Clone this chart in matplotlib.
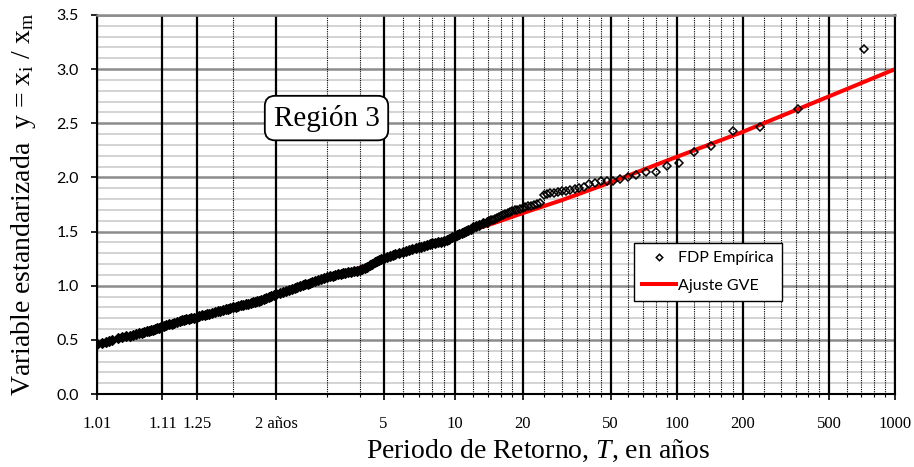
import numpy as np
import matplotlib
matplotlib.use('Agg')
import matplotlib.pyplot as plt
from matplotlib.ticker import FixedLocator, MultipleLocator, NullFormatter
from matplotlib.lines import Line2D

# ---------------- data ----------------
# dense part of the empirical distribution (reads as a solid black band)
T_band = [1.01, 1.0125, 1.015, 1.0175, 1.02, 1.025, 1.03, 1.035, 1.04, 1.045,
          1.05, 1.055, 1.06, 1.065, 1.07, 1.075, 1.08, 1.085, 1.09, 1.095,
          1.10, 1.105, 1.11, 1.115, 1.12, 1.13, 1.14, 1.15, 1.16, 1.17,
          1.18, 1.19, 1.20, 1.21, 1.22, 1.235, 1.25, 1.265, 1.28, 1.295,
          1.31, 1.325, 1.34, 1.36, 1.38, 1.40, 1.42, 1.44, 1.46, 1.48,
          1.5, 1.525, 1.55, 1.575, 1.6, 1.625, 1.65, 1.675, 1.7, 1.725,
          1.75, 1.775, 1.8, 1.83, 1.86, 1.895, 1.93, 1.965, 2.0, 2.05,
          2.1, 2.15, 2.2, 2.25, 2.3, 2.35, 2.4, 2.45, 2.5, 2.55,
          2.6, 2.65, 2.7, 2.775, 2.85, 2.925, 3.0, 3.075, 3.15, 3.225,
          3.3, 3.375, 3.45, 3.525, 3.6, 3.7, 3.8, 3.9, 4.0, 4.1,
          4.2, 4.3, 4.4, 4.5, 4.6, 4.7, 4.8, 4.9, 5.0, 5.15,
          5.3, 5.45, 5.6, 5.8, 6.0, 6.2, 6.4, 6.6, 6.8, 7.0,
          7.2, 7.4, 7.6, 7.8, 8.0, 8.25, 8.5, 8.75, 9.0, 9.25,
          9.5, 9.75, 10.0, 10.25, 10.5, 10.75, 11.0, 11.25, 11.5, 11.75,
          12.0, 12.41, 12.86, 13.33, 13.85]
y_band = [0.46, 0.47, 0.48, 0.49, 0.50, 0.513, 0.525, 0.533, 0.54, 0.548,
          0.555, 0.561, 0.567, 0.574, 0.58, 0.585, 0.59, 0.595, 0.60, 0.606,
          0.612, 0.619, 0.625, 0.629, 0.633, 0.642, 0.65, 0.659, 0.667, 0.674,
          0.68, 0.685, 0.69, 0.695, 0.70, 0.706, 0.712, 0.719, 0.725, 0.731,
          0.737, 0.743, 0.748, 0.755, 0.762, 0.769, 0.775, 0.781, 0.787, 0.794,
          0.80, 0.806, 0.812, 0.818, 0.823, 0.828, 0.833, 0.839, 0.845, 0.851,
          0.857, 0.863, 0.87, 0.877, 0.885, 0.897, 0.908, 0.917, 0.925, 0.935,
          0.945, 0.954, 0.962, 0.971, 0.98, 0.988, 0.997, 1.005, 1.013, 1.02,
          1.028, 1.035, 1.042, 1.053, 1.063, 1.072, 1.08, 1.087, 1.093, 1.099,
          1.104, 1.11, 1.115, 1.119, 1.123, 1.128, 1.133, 1.139, 1.145, 1.155,
          1.165, 1.177, 1.19, 1.204, 1.218, 1.229, 1.24, 1.249, 1.258, 1.267,
          1.275, 1.284, 1.292, 1.303, 1.314, 1.322, 1.33, 1.339, 1.348, 1.355,
          1.362, 1.37, 1.377, 1.384, 1.39, 1.396, 1.402, 1.408, 1.415, 1.425,
          1.435, 1.448, 1.46, 1.47, 1.48, 1.488, 1.495, 1.505, 1.515, 1.528,
          1.54, 1.55, 1.562, 1.575, 1.59]

# individual empirical points (open diamonds)
T_emp = [14.12, 14.4, 14.69, 15.0, 15.32, 15.65, 16.0, 16.36, 16.74, 17.14,
         17.56, 18.0, 18.46, 18.95, 19.46, 20.0, 20.57, 21.18, 21.82, 22.5,
         23.23, 24.0, 24.83, 25.71, 26.67, 27.69, 28.8, 30.0, 31.3, 32.73,
         34.29, 36.0, 37.89, 40.0, 42.35, 45.0, 48.0, 51.43, 55.38, 60.0,
         65.45, 72.0, 80.0, 90.0, 102.86, 120.0, 144.0, 180.0, 240.0, 360.0,
         720.0]
y_emp = [1.597, 1.604, 1.61, 1.618, 1.627, 1.636, 1.645, 1.652, 1.66, 1.668,
         1.677, 1.686, 1.695, 1.703, 1.712, 1.72, 1.727, 1.733, 1.739, 1.745,
         1.751, 1.76, 1.837, 1.85, 1.853, 1.859, 1.865, 1.871, 1.877, 1.884,
         1.89, 1.899, 1.914, 1.936, 1.945, 1.97, 1.967, 1.97, 1.988, 2.0,
         2.019, 2.05, 2.053, 2.105, 2.133, 2.231, 2.293, 2.431, 2.465, 2.632,
         3.189]

# GEV fit (red line)
T_fit = [1.01, 1.1, 1.25, 1.5, 2, 3, 5, 10, 15, 20, 30, 50, 100, 200, 500, 1000]
y_fit = [0.46, 0.60, 0.70, 0.79, 0.92, 1.06, 1.24, 1.46, 1.58, 1.67, 1.79,
         1.955, 2.19, 2.42, 2.75, 3.0]

xtick_T = [1.01, 1.11, 1.25, 2, 5, 10, 20, 50, 100, 200, 500, 1000]
xtick_labels = ['1.01', '1.11', '1.25', '2 años', '5', '10', '20', '50',
                '100', '200', '500', '1000']
xminor_T = [1.5, 3, 4, 6, 7, 8, 9, 12, 14, 16, 18, 25, 30, 35, 40, 45,
            60, 70, 80, 90, 120, 140, 160, 180, 250, 300, 350, 400, 450,
            600, 700, 800, 900]
ytick_vals = [0.0, 0.5, 1.0, 1.5, 2.0, 2.5, 3.0, 3.5]
ytick_labels = ['0.0', '0.5', '1.0', '1.5', '2.0', '2.5', '3.0', '3.5']


# ---------------- Gumbel probability scale ----------------
def fwd(T):
    T = np.asarray(T, dtype=float)
    with np.errstate(all='ignore'):
        return -np.log(-np.log(1.0 - 1.0 / T))


def inv(g):
    g = np.asarray(g, dtype=float)
    with np.errstate(all='ignore'):
        return 1.0 / (1.0 - np.exp(-np.exp(-g)))


plt.rcParams['font.family'] = ['Liberation Serif', 'DejaVu Serif']
plt.rcParams['mathtext.fontset'] = 'custom'
plt.rcParams['mathtext.rm'] = 'Liberation Serif'
plt.rcParams['mathtext.it'] = 'Liberation Serif:italic'

fig = plt.figure(figsize=(9.14, 4.67), dpi=100)
ax = fig.add_axes([97 / 914, 73 / 467, 798 / 914, 379 / 467])

ax.set_xscale('function', functions=(fwd, inv))
ax.set_xlim(1.01, 1000)
ax.set_ylim(0, 3.5)

ax.set_xticks(xtick_T, xtick_labels, fontsize=12)
ax.xaxis.set_minor_locator(FixedLocator(xminor_T))
ax.xaxis.set_minor_formatter(NullFormatter())
ax.set_yticks(ytick_vals, ytick_labels, fontsize=11.5, fontfamily='Lato')
ax.yaxis.set_minor_locator(MultipleLocator(0.1))

ax.set_axisbelow(True)
ax.yaxis.set_zorder(0.3)   # horizontal grid below the vertical grid
ax.xaxis.set_zorder(0.6)
ax.grid(axis='x', which='major', color='black', lw=1.6, ls='-')
ax.grid(axis='x', which='minor', color='black', lw=0.8, ls=(0, (1, 1)))
ax.grid(axis='y', which='major', color='#8c8c8c', lw=1.8)
ax.grid(axis='y', which='minor', color='#c8c8c8', lw=1.1)

ax.tick_params(axis='x', which='major', direction='out', length=4, width=1.2, pad=11.5)
ax.tick_params(axis='x', which='minor', direction='out', length=2.5, width=0.8)
ax.tick_params(axis='y', which='major', direction='out', length=4, width=1.2, pad=9)
ax.tick_params(axis='y', which='minor', length=0)

for s in ['left', 'bottom', 'right']:
    ax.spines[s].set_color('black')
    ax.spines[s].set_linewidth(1.5)
ax.spines['top'].set_color('#8c8c8c')
ax.spines['top'].set_linewidth(1.8)

# series
ax.plot(T_fit, y_fit, color='#ff0000', lw=2.9, zorder=2, solid_capstyle='butt')
ax.plot(T_band, y_band, ls='none', marker='D', ms=5.5, mfc='black', mec='black',
        mew=0.8, zorder=3)
ax.plot(T_emp, y_emp, ls='none', marker='D', ms=3.6, mfc='none', mec='black',
        mew=1.1, zorder=3)

handles = [Line2D([], [], ls='none', marker='D', ms=3.3, mfc='none', mec='black',
                  mew=1.1, label='FDP Empírica'),
           Line2D([], [], color='#ff0000', lw=2.9, label='Ajuste GVE')]
leg = ax.legend(handles=handles, loc='upper left', bbox_to_anchor=(0.673, 0.398),
                prop={'family': 'Lato', 'size': 11.5}, frameon=True, fancybox=False,
                edgecolor='black', framealpha=1, borderpad=0.5, labelspacing=0.85,
                handlelength=2.1, handletextpad=0.15, borderaxespad=0)
leg.get_frame().set_linewidth(1.0)
leg.set_zorder(5)

ax.text(0.2876, 0.728, 'Región 3', transform=ax.transAxes, ha='center', va='center',
        fontsize=21, zorder=6,
        bbox=dict(boxstyle='round,pad=0.3,rounding_size=0.35', fc='white',
                  ec='black', lw=1.3))

ax.set_xlabel(r'Periodo de Retorno, $\it{T}$, en años', fontsize=20)
ax.xaxis.set_label_coords(0.5526, -0.115)
ax.set_ylabel(r'Variable estandarizada  y = x$_{\rm i}$ / x$_{\rm m}$', fontsize=20)
ax.yaxis.set_label_coords(-0.074, 0.5)

fig.savefig('out.png', dpi=100)
